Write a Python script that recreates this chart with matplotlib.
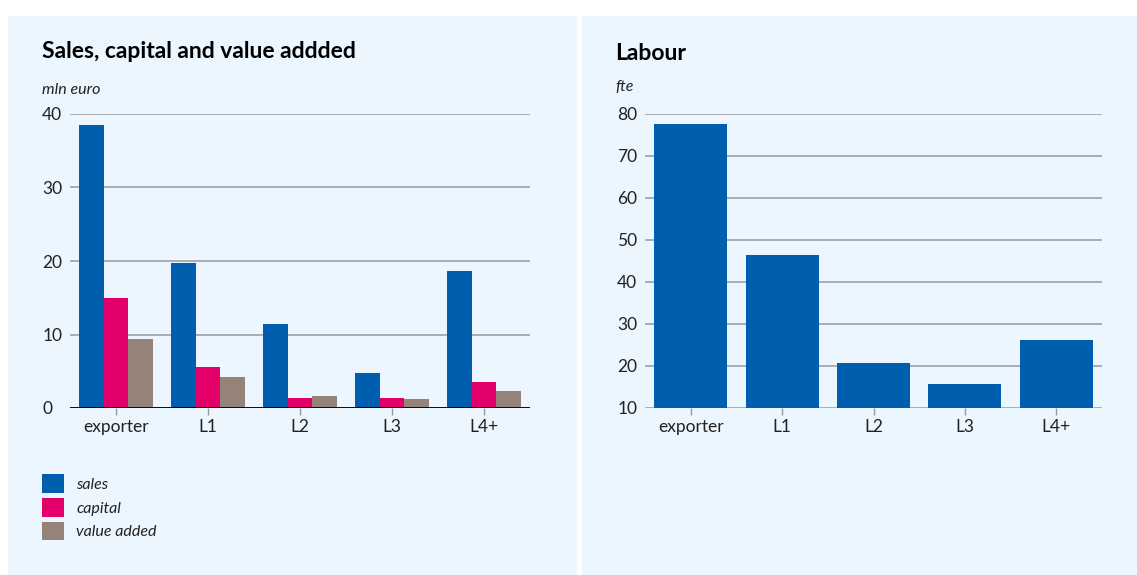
import matplotlib
matplotlib.use("Agg")
import matplotlib.pyplot as plt
import matplotlib.patches as mpatch
import numpy as np

plt.rcParams["font.family"] = ["Lato", "DejaVu Sans"]

categories = ["exporter", "L1", "L2", "L3", "L4+"]
sales = [38.5, 19.7, 11.4, 4.8, 18.6]
capital = [15.0, 5.6, 1.4, 1.4, 3.5]
value_added = [9.4, 4.2, 1.7, 1.2, 2.3]
labour = [77.6, 46.4, 20.7, 15.7, 26.2]

BLUE = "#005eae"
PINK = "#e3006b"
TAUPE = "#958379"
PANEL = "#ebf6fe"
GRID = "#9a9a9a"

W, H = 1137, 575
fig = plt.figure(figsize=(W / 100, H / 100), dpi=100)
fig.patch.set_facecolor("white")


def px(x0, y0, w, h):
    """pixel box (top-left origin) -> figure fraction rect."""
    return [x0 / W, 1 - (y0 + h) / H, w / W, h / H]


# light panels behind each chart
for x0, x1 in [(8, 577), (582, 1137)]:
    fig.patches.append(
        mpatch.Rectangle(
            (x0 / W, 0), (x1 - x0) / W, 1 - 16 / H,
            transform=fig.transFigure, facecolor=PANEL, edgecolor="none", zorder=-5,
        )
    )


def style_axes(ax):
    ax.set_facecolor("none")
    for side in ["top", "right", "left", "bottom"]:
        ax.spines[side].set_visible(False)
    ax.yaxis.grid(True, color=GRID, linewidth=1.1)
    ax.set_axisbelow(True)
    ax.tick_params(axis="y", length=0, pad=20, labelsize=12.5, colors="#222222")
    ax.tick_params(axis="x", length=5, width=1, color=GRID, pad=3,
                   labelsize=12.5, labelcolor="#222222")
    ax.set_xlim(-0.5, 4.5)


# left: sales, capital, value added
ax1 = fig.add_axes(px(70, 114, 460, 294))
style_axes(ax1)
x = np.arange(len(categories))
bw = 0.266
b1 = ax1.bar(x - bw, sales, bw, color=BLUE, label="sales")
b2 = ax1.bar(x, capital, bw, color=PINK, label="capital")
b3 = ax1.bar(x + bw, value_added, bw, color=TAUPE, label="value added")
ax1.set_ylim(0, 40)
ax1.set_yticks([0, 10, 20, 30, 40])
ax1.set_xticks(x)
ax1.set_xticklabels(categories)
ax1.axhline(0, color="black", linewidth=1.3, zorder=3)
for lab in ax1.get_yticklabels():
    lab.set_horizontalalignment("left")

fig.text(42 / W, 1 - 58 / H, "Sales, capital and value addded",
         fontsize=16.5, fontweight="bold", va="baseline", ha="left")
fig.text(42 / W, 1 - 94 / H, "mln euro", fontsize=11.5, style="italic",
         va="baseline", ha="left", color="#222222")

leg = fig.legend(
    handles=[b1, b2, b3], loc="upper left",
    bbox_to_anchor=(42 / W, 1 - 474 / H), frameon=False,
    borderpad=0, borderaxespad=0,
    handlelength=1.4, handleheight=1.45, handletextpad=0.75,
    labelspacing=0.3, fontsize=11.5,
)
for t in leg.get_texts():
    t.set_fontstyle("italic")
    t.set_color("#222222")

# right: labour
ax2 = fig.add_axes(px(645, 114, 457, 294))
style_axes(ax2)
ax2.bar(x, labour, 0.8, bottom=0, color=BLUE)
ax2.set_ylim(10, 80)
ax2.set_yticks([10, 20, 30, 40, 50, 60, 70, 80])
ax2.set_xticks(x)
ax2.set_xticklabels(categories)
for lab in ax2.get_yticklabels():
    lab.set_horizontalalignment("left")

fig.text(615 / W, 1 - 60 / H, "Labour", fontsize=16.5, fontweight="bold",
         va="baseline", ha="left")
fig.text(615 / W, 1 - 91 / H, "fte", fontsize=11.5, style="italic",
         va="baseline", ha="left", color="#222222")

fig.savefig("out.png", dpi=100)
